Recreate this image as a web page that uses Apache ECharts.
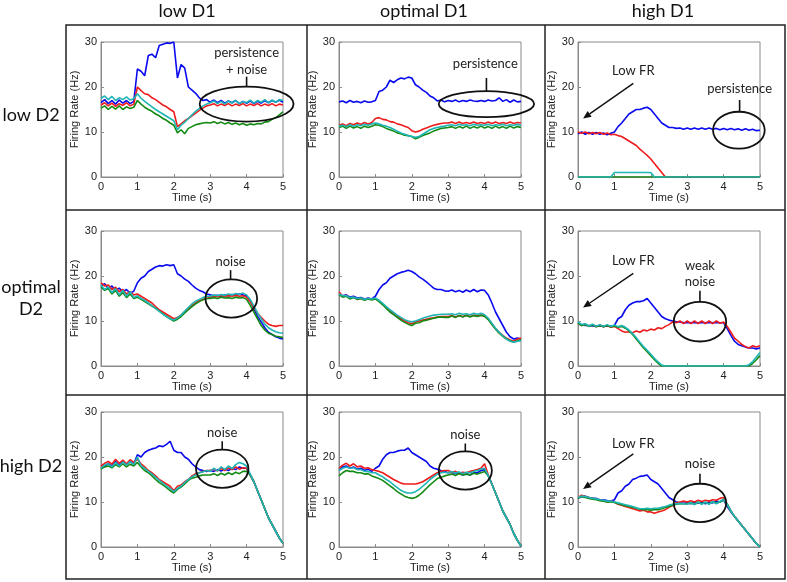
<!DOCTYPE html>
<html><head><meta charset="utf-8">
<script src="https://cdn.jsdelivr.net/npm/echarts@6/dist/echarts.min.js"></script>
<style>html,body{margin:0;padding:0;background:#fff}#c{width:787px;height:582px}</style>
</head><body><div id="c"></div>
<script>
// ---------- data ----------
const time = [0,0.1,0.2,0.3,0.4,0.5,0.6,0.7,0.8,0.9,1.0,1.1,1.2,1.3,1.4,1.5,1.6,1.7,1.8,1.9,2.0,2.1,2.2,2.3,2.4,2.5,2.6,2.7,2.8,2.9,3.0,3.1,3.2,3.3,3.4,3.5,3.6,3.7,3.8,3.9,4.0,4.1,4.2,4.3,4.4,4.5,4.6,4.7,4.8,4.9,5.0];
const xTicks = [0,1,2,3,4,5];
const yTicks = [0,10,20,30];
const colLabels = ['low D1','optimal D1','high D1'];
const rowLabels = ['low D2','optimal\nD2','high D2'];
const seriesNames = ['blue','red','green','cyan'];

// low D1 / low D2
const lowLow_blue = [16.5,17.2,16.3,17.0,16.2,17.1,16.4,17.0,16.3,16.8, 24.0,23.5,22.5,27.0,27.3,26.5,29.2,29.5,29.8,29.7, 30.0,22.0,25.0,24.2,20.0,19.3,18.6,17.6,17.0,17.2, 16.6,17.1,16.5,17.0,16.4,16.9,16.5,17.0,16.3,16.8, 16.4,16.9,16.3,16.8,16.4,17.0,16.5,17.0,16.6,17.1, 16.6];
const lowLow_red = [16.0,16.5,15.8,16.4,15.7,16.3,15.9,16.5,15.8,16.2, 20.0,19.2,18.5,18.3,17.6,17.2,16.6,16.0,15.6,15.0, 14.5,11.2,11.8,12.5,13.0,13.6,14.2,14.8,15.3,15.8, 16.0,16.3,15.8,16.2,15.9,16.3,15.8,16.2,15.9,16.3, 15.8,16.2,15.9,16.3,15.8,16.2,15.9,16.3,15.8,16.2, 16.0];
const lowLow_green = [15.3,15.8,15.0,15.7,15.1,15.8,15.0,15.6,15.2,15.5, 17.0,16.2,15.5,15.0,14.6,14.0,13.6,13.0,12.6,12.0, 11.5,9.8,10.5,9.6,10.8,11.2,11.6,11.8,12.0,12.1, 12.0,12.3,11.9,12.2,11.8,12.1,11.7,12.0,11.6,11.9, 11.5,11.8,11.6,11.9,11.8,12.2,12.3,12.8,13.2,13.8, 14.5];
const lowLow_cyan = [17.5,18.0,17.2,17.9,17.0,17.6,17.2,17.8,17.1,17.4, 18.5,17.5,16.8,16.2,15.6,15.0,14.5,14.0,13.5,13.0, 12.5,10.5,11.5,12.2,13.0,13.8,14.6,15.2,15.8,16.2, 16.5,16.9,16.3,16.8,16.2,16.9,16.4,17.0,16.3,16.8, 16.5,17.1,16.4,17.0,16.6,17.2,16.5,17.1,16.6,17.2, 17.0];

// optimal D1 / low D2
const optLow_blue = [16.7,16.9,16.5,17.0,16.6,16.8,16.5,16.9,16.6,16.7, 17.0,19.0,19.3,20.0,21.5,21.0,21.6,22.0,21.8,22.2, 22.0,20.5,20.0,19.3,18.8,18.0,17.6,16.9,17.1,16.7, 17.0,16.8,17.1,16.7,17.0,16.8,17.1,16.9,16.8,17.0, 16.8,17.1,16.9,17.0,17.6,16.8,17.2,16.6,17.1,16.7, 16.8];
const optLow_red = [11.5,11.8,11.4,11.9,11.6,12.0,11.7,12.1,11.8,12.1, 13.0,13.2,12.8,12.7,12.3,12.2,11.8,11.6,11.3,11.0, 10.3,10.0,10.2,10.6,10.9,11.2,11.5,11.7,11.9,12.0, 12.0,12.2,11.9,12.2,11.9,12.1,11.9,12.2,11.9,12.1, 11.9,12.2,11.9,12.2,11.9,12.1,11.9,12.2,11.9,12.1, 12.0];
const optLow_green = [11.0,11.3,10.8,11.3,10.9,11.2,10.8,11.3,11.0,11.3, 11.6,11.5,11.2,10.8,10.5,10.2,9.8,9.6,9.3,9.2, 9.0,8.5,8.8,9.2,9.5,9.8,10.2,10.5,10.8,10.9, 11.0,11.2,10.8,11.2,10.9,11.3,10.8,11.2,10.9,11.3, 10.9,11.2,10.8,11.3,10.9,11.2,10.8,11.3,10.9,11.2, 11.0];
const optLow_cyan = [11.3,11.5,11.2,11.6,11.3,11.6,11.4,11.7,11.5,11.8, 12.0,11.8,11.5,11.3,11.0,10.6,10.2,9.8,9.5,9.2, 9.0,8.8,9.0,9.5,10.0,10.5,10.8,11.0,11.2,11.3, 11.5,11.6,11.4,11.7,11.5,11.6,11.4,11.7,11.5,11.6, 11.5,11.7,11.4,11.6,11.5,11.7,11.4,11.6,11.5,11.7, 11.5];

// high D1 / low D2
const highLow_blue = [9.6,10.0,9.5,9.9,9.5,9.9,9.5,9.8,9.4,9.7, 10.0,11.2,12.0,13.0,14.0,14.5,15.0,15.0,15.3,15.5, 15.0,14.0,13.0,12.0,11.5,11.0,11.0,10.8,10.9,10.6, 10.9,10.6,10.9,10.6,10.9,10.6,10.9,10.6,10.8,10.5, 10.8,10.5,10.8,10.5,10.7,10.4,10.7,10.4,10.6,10.3, 10.4];
const highLow_red = [10.0,9.7,10.0,9.6,9.9,9.6,9.9,9.5,9.8,9.4, 9.5,9.2,9.0,8.5,8.0,7.5,7.0,6.2,5.5,4.8, 4.0,3.0,2.0,1.0,0,0,0,0,0,0, 0,0,0,0,0,0,0,0,0,0, 0,0,0,0,0,0,0,0,0,0, 0];
const highLow_green = [0,0,0,0,0,0,0,0,0,0, 0,0,0,0,0,0,0,0,0,0, 0,0,0,0,0,0,0,0,0,0, 0,0,0,0,0,0,0,0,0,0, 0,0,0,0,0,0,0,0,0,0, 0];
const highLow_cyan = [0,0,0,0,0,0,0,0,0,0, 1,1,1,1,1,1,1,1,1,1, 1,0,0,0,0,0,0,0,0,0, 0,0,0,0,0,0,0,0,0,0, 0,0,0,0,0,0,0,0,0,0, 0];

// low D1 / optimal D2
const lowOpt_blue = [17.8,18.3,17.2,17.8,16.8,17.3,16.5,17.0,16.2,16.6, 18.5,19.5,20.0,21.0,21.5,22.0,22.3,22.2,22.5,22.3, 22.5,20.5,20.0,19.3,18.8,18.0,17.3,16.8,16.5,16.0, 15.8,15.6,15.7,15.5,15.8,15.6,15.9,15.7,16.0,15.8, 15.5,14.5,12.8,11.0,9.8,8.5,7.5,7.0,6.5,6.2, 6.0];
const lowOpt_red = [18.5,17.8,18.0,17.0,17.5,16.5,17.0,16.0,16.5,15.8, 16.0,15.5,15.0,14.5,14.0,13.2,12.5,12.0,11.5,11.0, 10.5,10.8,11.3,12.0,12.8,13.5,14.0,14.5,14.8,15.0, 15.3,15.5,15.4,15.6,15.5,15.6,15.5,15.7,15.5,15.6, 15.3,14.3,13.0,11.8,10.8,10.0,9.3,9.0,8.8,9.0, 9.0];
const lowOpt_green = [17.5,16.8,17.2,16.0,16.8,15.5,16.3,15.2,16.0,15.0, 15.3,14.8,14.3,13.8,13.3,12.8,12.2,11.6,11.0,10.5, 10.0,10.4,11.0,11.8,12.5,13.2,13.8,14.3,14.7,15.0, 15.0,15.2,15.0,15.3,15.1,15.2,15.0,15.3,15.1,15.2, 14.8,13.5,12.0,10.5,9.0,8.0,7.3,7.0,6.6,6.5, 6.3];
const lowOpt_cyan = [18.0,17.0,17.6,16.3,17.2,15.8,16.8,15.5,16.5,15.2, 15.6,15.0,14.6,14.0,13.4,12.8,12.2,11.5,11.0,10.5, 10.2,10.7,11.3,12.2,13.0,13.8,14.4,14.8,15.2,15.5, 15.5,15.8,15.6,15.9,15.7,16.0,15.8,16.1,15.9,16.2, 15.8,14.8,13.3,11.8,10.5,9.3,8.5,8.0,7.6,7.4, 7.3];

// optimal D1 / optimal D2
const optOpt_blue = [16.0,15.6,15.8,15.3,15.5,15.1,15.2,14.9,15.1,14.9, 15.5,17.0,18.0,18.5,19.5,20.0,20.5,20.8,21.0,21.3, 21.0,20.5,19.8,19.3,18.7,18.0,17.3,17.0,17.0,16.7, 16.6,16.9,16.5,16.8,16.4,16.9,16.5,17.0,16.5,16.9, 16.8,15.8,14.0,12.0,10.5,9.0,7.5,6.5,6.0,6.2, 6.0];
const optOpt_red = [16.5,15.5,15.7,15.0,15.3,14.8,15.0,14.7,15.0,14.8, 15.0,14.5,13.8,13.0,12.3,11.6,11.0,10.5,10.0,9.6, 9.4,9.8,10.0,10.2,10.4,10.6,10.7,10.9,11.0,11.0, 11.0,11.2,10.9,11.2,11.0,11.3,11.0,11.3,11.1,11.3, 11.2,10.5,9.3,8.3,7.5,6.8,6.2,5.8,5.5,6.0, 6.2];
const optOpt_green = [15.8,15.3,15.5,14.9,15.2,14.8,15.0,14.6,14.9,14.7, 14.9,14.3,13.6,12.8,12.0,11.4,10.8,10.2,9.7,9.3, 9.0,9.5,9.6,10.0,10.2,10.4,10.6,10.8,10.9,10.8, 10.8,11.1,10.8,11.2,10.9,11.2,10.9,11.2,11.0,11.3, 11.0,10.3,9.2,8.2,7.3,6.6,6.0,5.6,5.3,5.6, 5.8];
const optOpt_cyan = [16.0,15.6,15.6,15.2,15.3,15.0,15.1,14.8,15.0,14.9, 15.1,14.6,13.9,13.2,12.5,11.9,11.3,10.8,10.3,10.0, 9.8,10.0,10.3,10.6,10.9,11.1,11.3,11.4,11.5,11.5, 11.5,11.6,11.4,11.7,11.5,11.6,11.4,11.7,11.5,11.7, 11.4,10.6,9.5,8.4,7.5,6.7,6.0,5.5,5.3,5.5, 5.6];

// high D1 / optimal D2
const highOpt_blue = [9.5,9.2,9.0,9.0,8.9,8.9,8.9,8.8,8.9,8.8, 9.0,10.5,11.0,12.5,13.5,14.0,14.3,14.3,14.5,15.0, 14.0,13.0,12.0,11.0,10.5,10.2,10.0,9.8,9.8,9.6, 9.7,9.6,9.7,9.6,9.7,9.6,9.7,9.6,9.7,9.6, 9.6,8.3,6.8,5.5,4.8,4.5,4.2,4.0,4.0,3.8, 4.0];
const highOpt_red = [9.5,9.0,9.3,8.8,9.2,8.7,9.1,8.7,9.0,8.6, 8.8,8.3,7.8,7.5,7.6,7.4,7.8,7.5,8.0,7.8, 8.2,8.0,8.5,8.3,8.8,9.2,9.8,9.6,10.0,9.4, 10.0,9.4,10.0,9.4,10.0,9.4,10.0,9.4,10.0,9.5, 9.8,8.8,7.5,6.2,5.5,4.8,4.3,4.0,4.5,4.2, 4.5];
const highOpt_green = [9.5,9.0,9.2,8.8,9.1,8.7,9.0,8.7,9.0,8.7, 8.9,8.6,8.8,8.4,7.8,7.0,6.0,5.0,4.0,3.2, 2.3,1.4,0.6,0,0,0,0,0,0,0, 0,0,0,0,0,0,0,0,0,0, 0,0,0,0,0,0,0,0,0.6,1.4, 2.3];
const highOpt_cyan = [9.8,9.2,9.4,8.9,9.3,8.8,9.2,8.8,9.2,8.8, 9.1,8.7,9.0,8.6,8.0,7.2,6.3,5.3,4.3,3.5, 2.6,1.7,0.9,0.2,0,0,0,0,0,0, 0,0,0,0,0,0,0,0,0,0, 0,0,0,0,0,0,0,0.3,1.0,2.0, 3.0];

// low D1 / high D2
const lowHigh_blue = [17.5,18.0,18.5,18.0,19.0,18.2,19.0,18.3,19.0,18.5, 20.5,20.0,21.0,21.5,21.8,22.0,22.5,22.3,22.8,23.5, 21.5,21.0,21.0,20.0,19.5,18.5,17.8,17.2,17.0,16.8, 17.0,16.8,17.2,16.9,17.3,17.0,17.5,17.2,17.8,17.5, 17.5,16.0,14.5,12.5,10.5,8.5,6.5,5.0,3.5,2.0, 0.8];
const lowHigh_red = [18.0,18.6,19.0,18.4,19.5,18.6,19.3,18.5,19.4,18.8, 19.5,18.5,17.8,17.0,16.5,15.8,15.0,14.5,14.0,13.5, 12.5,13.5,13.8,14.5,15.0,15.8,16.3,16.5,16.8,17.0, 17.0,17.3,16.9,17.5,17.0,17.6,17.2,17.8,17.3,17.6, 17.5,16.0,14.5,12.5,10.5,8.5,6.5,5.0,3.5,2.0, 0.8];
const lowHigh_green = [17.3,17.8,18.0,17.6,18.3,17.8,18.5,17.8,18.4,18.0, 18.8,17.8,17.0,16.5,15.8,15.0,14.3,13.8,13.2,12.5, 12.0,12.8,13.3,14.0,14.8,15.3,15.5,15.8,16.0,16.0, 16.0,16.3,15.9,16.4,16.0,16.5,16.1,16.6,16.3,16.8, 16.8,16.0,14.5,12.5,10.5,8.5,6.5,5.0,3.5,2.0, 0.8];
const lowHigh_cyan = [17.5,18.2,18.5,17.8,18.8,18.0,18.9,18.2,19.0,18.3, 20.0,18.0,17.5,16.8,16.2,15.5,14.8,14.2,13.5,13.0, 12.3,13.0,13.5,14.3,15.0,15.6,16.0,16.5,16.7,17.0, 16.8,17.5,16.9,17.8,17.2,18.0,17.4,18.3,18.8,18.5, 18.0,16.2,14.5,12.5,10.5,8.5,6.5,5.0,3.5,2.0, 0.8];

// optimal D1 / high D2
const optHigh_blue = [17.0,17.8,18.0,17.5,17.8,17.3,17.5,17.0,17.3,16.8, 17.5,18.0,19.5,20.5,21.0,21.0,21.3,21.5,21.5,22.0, 21.0,20.5,20.0,19.5,19.0,18.0,17.5,17.3,17.0,16.8, 16.5,16.6,16.3,16.5,16.0,16.3,16.0,16.5,16.5,17.0, 17.2,15.8,14.0,12.0,10.0,8.0,6.5,5.0,3.0,1.5, 0.2];
const optHigh_red = [17.5,18.2,18.6,18.0,18.5,17.8,18.0,17.5,17.6,17.2, 17.0,16.8,16.5,16.0,15.5,15.0,14.6,14.2,14.0,14.0, 14.0,14.0,14.2,14.5,15.0,15.5,16.0,16.5,16.8,17.0, 17.0,16.6,16.8,16.4,16.6,16.5,16.8,17.0,17.2,17.5, 18.5,16.0,14.0,12.0,10.0,8.0,6.5,5.0,3.0,1.5, 0.2];
const optHigh_green = [15.8,16.5,17.0,16.8,16.8,16.5,16.5,16.2,16.3,15.8, 15.5,15.2,14.8,14.2,13.6,13.0,12.3,11.8,11.3,11.0, 10.8,11.0,11.5,12.2,13.0,13.8,14.5,15.2,15.5,15.8, 16.0,16.2,15.9,16.3,16.0,16.2,16.0,16.4,16.2,16.5, 16.8,15.8,14.0,12.0,10.0,8.0,6.5,5.0,3.0,1.5, 0.2];
const optHigh_cyan = [17.0,17.5,17.8,17.5,17.6,17.2,17.2,16.8,16.8,16.5, 16.5,16.0,15.6,15.0,14.5,13.8,13.2,12.6,12.2,12.0, 12.0,12.3,12.8,13.5,14.2,15.0,15.6,16.2,16.5,16.6, 16.5,16.8,16.4,16.7,16.3,16.6,16.5,16.8,17.0,17.3, 17.5,15.8,14.0,12.0,10.0,8.0,6.5,5.0,3.0,1.5, 0.2];

// high D1 / high D2
const highHigh_blue = [10.8,11.2,11.3,11.0,10.8,10.8,10.5,10.5,10.3,10.2, 10.5,12.0,12.5,13.5,14.0,15.0,15.3,15.7,15.8,16.0, 15.0,14.5,14.0,13.0,12.0,11.0,10.5,10.0,9.8,9.7, 9.8,9.6,10.0,9.7,10.0,9.6,10.0,9.8,10.2,10.0, 10.5,9.0,7.8,6.8,5.8,4.8,3.8,2.8,1.8,0.8, 0];
const highHigh_red = [11.0,11.5,11.2,11.0,10.8,10.6,10.4,10.3,10.0,10.2, 10.0,9.5,9.3,9.0,8.8,8.5,8.3,8.0,8.2,7.8, 7.8,7.5,7.8,8.0,8.3,8.8,9.2,9.8,10.0,10.2, 10.0,10.3,10.0,10.4,10.1,10.4,10.2,10.5,10.4,10.8, 11.0,9.5,8.0,6.8,5.8,4.8,3.8,2.8,1.8,0.8, 0];
const highHigh_green = [10.8,11.2,11.0,10.8,10.6,10.5,10.3,10.2,10.0,10.0, 9.9,9.6,9.4,9.2,9.0,8.8,8.6,8.4,8.3,8.3, 8.2,8.3,8.3,8.5,8.8,9.0,9.3,9.5,9.6,9.6, 9.6,9.8,9.5,9.9,9.6,9.9,9.6,10.0,9.8,10.0, 10.5,9.5,8.0,6.8,5.8,4.8,3.8,2.8,1.8,0.8, 0];
const highHigh_cyan = [11.0,11.3,11.2,11.0,10.8,10.7,10.5,10.4,10.2,10.2, 10.0,9.8,9.6,9.4,9.2,9.0,8.7,8.5,8.5,8.6, 8.5,8.6,8.6,8.8,9.0,9.3,9.5,9.6,9.7,9.6, 9.5,9.9,9.4,10.0,9.5,10.0,9.5,10.1,9.6,10.1, 10.6,9.5,8.0,6.8,5.8,4.8,3.8,2.8,1.8,0.8, 0];

// panels in reading order (row = D2 level, col = D1 level)
const panels = [
  [lowLow_blue, lowLow_red, lowLow_green, lowLow_cyan],
  [optLow_blue, optLow_red, optLow_green, optLow_cyan],
  [highLow_blue, highLow_red, highLow_green, highLow_cyan],
  [lowOpt_blue, lowOpt_red, lowOpt_green, lowOpt_cyan],
  [optOpt_blue, optOpt_red, optOpt_green, optOpt_cyan],
  [highOpt_blue, highOpt_red, highOpt_green, highOpt_cyan],
  [lowHigh_blue, lowHigh_red, lowHigh_green, lowHigh_cyan],
  [optHigh_blue, optHigh_red, optHigh_green, optHigh_cyan],
  [highHigh_blue, highHigh_red, highHigh_green, highHigh_cyan]
];

// annotations (data coordinates of each panel)
const annotations = [
  {panel:0, ellipse:[4.0,16.2,1.29,3.9], tick:[4.0,20.1,22.3], texts:[['persistence',4.0,27.5],['+ noise',4.0,23.8]]},
  {panel:1, ellipse:[4.05,16.2,1.31,2.9], tick:[4.05,19.1,22.0], texts:[['persistence',4.02,25.1]]},
  {panel:2, ellipse:[4.42,10.4,0.71,4.1], tick:[4.44,14.5,17.1], texts:[['persistence',4.44,19.7],['Low FR',1.52,23.5]], arrow:[1.52,20.8,0.14,13.0]},
  {panel:3, ellipse:[3.58,15.0,0.71,4.26], tick:[3.56,19.26,21.3], texts:[['noise',3.56,23.2]]},
  {panel:5, ellipse:[3.35,9.85,0.72,4.4], tick:[3.35,14.25,16.7], texts:[['weak',3.35,22.2],['noise',3.35,18.7],['Low FR',1.52,23.3]], arrow:[1.52,20.6,0.14,13.0]},
  {panel:6, ellipse:[3.33,17.4,0.72,4.26], tick:[3.33,21.66,23.5], texts:[['noise',3.33,25.3]]},
  {panel:7, ellipse:[3.47,17.0,0.73,4.26], tick:[3.47,21.26,23.0], texts:[['noise',3.47,25.0]]},
  {panel:8, ellipse:[3.35,9.8,0.72,4.26], tick:[3.35,14.06,16.3], texts:[['noise',3.35,18.4],['Low FR',1.52,23.0]], arrow:[1.52,20.7,0.14,12.9]}
];

// ---------- layout / style ----------
const colors = ['#0a0aee','#ee1c1c','#138a13','#1fb5b5'];
const gridLeft = [101, 339, 578];
const gridTop = [42, 231, 412];
const GW = 182, GH = 135;
const axisFont = 'Liberation Sans';

const grids = [], xAxes = [], yAxes = [], series = [];
for (let i = 0; i < 9; i++) {
  const r = Math.floor(i / 3), c = i % 3;
  grids.push({left: gridLeft[c], top: gridTop[r], width: GW, height: GH, show: true,
    borderColor: '#8a8a8a', borderWidth: 1, backgroundColor: '#fff', containLabel: false});
  xAxes.push({type: 'value', gridIndex: i, min: xTicks[0], max: xTicks[xTicks.length-1], interval: 1,
    name: 'Time (s)', nameLocation: 'middle', nameGap: 15,
    nameTextStyle: {fontFamily: axisFont, fontSize: 11, color: '#222'},
    axisLine: {show: true, onZero: false, lineStyle: {color: '#8a8a8a', width: 1}},
    axisTick: {show: true, inside: true, length: 3, lineStyle: {color: '#8a8a8a'}},
    axisLabel: {fontFamily: axisFont, fontSize: 11, color: '#222', margin: 4},
    splitLine: {show: false}});
  yAxes.push({type: 'value', gridIndex: i, min: yTicks[0], max: yTicks[yTicks.length-1], interval: 10,
    name: 'Firing Rate (Hz)', nameLocation: 'middle', nameGap: 18,
    nameTextStyle: {fontFamily: axisFont, fontSize: 11, color: '#222'},
    axisLine: {show: true, lineStyle: {color: '#8a8a8a', width: 1}},
    axisTick: {show: true, inside: true, length: 3, lineStyle: {color: '#8a8a8a'}},
    axisLabel: {fontFamily: axisFont, fontSize: 11, color: '#222', margin: 4},
    splitLine: {show: false}});
  panels[i].forEach((vals, k) => {
    series.push({type: 'line', name: seriesNames[k], xAxisIndex: i, yAxisIndex: i,
      data: time.map((t, j) => [t, vals[j]]),
      showSymbol: false, symbol: 'none', lineStyle: {color: colors[k], width: 1.6},
      itemStyle: {color: colors[k]}, z: 2 + k, clip: true, silent: true});
  });
}

const chart = echarts.init(document.getElementById('c'), null, {renderer: 'canvas'});
chart.setOption({animation: false, backgroundColor: '#fff', grid: grids, xAxis: xAxes, yAxis: yAxes, series: series});

// ---------- frame, headers, annotations ----------
const g = [];
const frameL = 66, frameT = 25, frameR = 785, frameB = 579;
const rowLines = [210, 395], colLines = [307, 545];
const frameStyle = {stroke: '#222', lineWidth: 1.5};
g.push({type: 'rect', shape: {x: frameL, y: frameT, width: frameR - frameL, height: frameB - frameT}, style: {fill: null, stroke: '#222', lineWidth: 1.5}, z: 50});
rowLines.forEach(y => g.push({type: 'line', shape: {x1: frameL, y1: y, x2: frameR, y2: y}, style: frameStyle, z: 50}));
colLines.forEach(x => g.push({type: 'line', shape: {x1: x, y1: frameT, x2: x, y2: frameB}, style: frameStyle, z: 50}));
const headX = [187, 424, 663];
colLabels.forEach((t, i) => g.push({type: 'text', x: headX[i], y: 11, style: {text: t, font: '18px Lato', fill: '#111', align: 'center', verticalAlign: 'middle'}, z: 60}));
const rowY = [115, 298, 466];
rowLabels.forEach((t, i) => g.push({type: 'text', x: 31, y: rowY[i], style: {text: t, font: '18px Lato', fill: '#111', align: 'center', verticalAlign: 'middle', lineHeight: 22}, z: 60}));

const annFont = '13px Lato';
annotations.forEach(a => {
  const P = (x, y) => chart.convertToPixel({gridIndex: a.panel}, [x, y]);
  const [ex, ey, erx, ery] = a.ellipse;
  const c0 = P(ex, ey), c1 = P(ex + erx, ey + ery);
  g.push({type: 'ellipse', shape: {cx: c0[0], cy: c0[1], rx: c1[0] - c0[0], ry: c0[1] - c1[1]}, style: {fill: null, stroke: '#111', lineWidth: 1.8}, z: 70});
  const t0 = P(a.tick[0], a.tick[1]), t1 = P(a.tick[0], a.tick[2]);
  g.push({type: 'line', shape: {x1: t0[0], y1: t0[1], x2: t1[0], y2: t1[1]}, style: {stroke: '#111', lineWidth: 1.6}, z: 70});
  a.texts.forEach(([txt, x, y]) => {
    const p = P(x, y);
    g.push({type: 'text', x: p[0], y: p[1], style: {text: txt, font: annFont, fill: '#222', align: 'center', verticalAlign: 'middle'}, z: 71});
  });
  if (a.arrow) {
    const s = P(a.arrow[0], a.arrow[1]), e = P(a.arrow[2], a.arrow[3]);
    const ang = Math.atan2(e[1] - s[1], e[0] - s[0]);
    const L = 8, W = 3.5;
    const bx = e[0] - L * Math.cos(ang), by = e[1] - L * Math.sin(ang);
    g.push({type: 'line', shape: {x1: s[0], y1: s[1], x2: bx, y2: by}, style: {stroke: '#111', lineWidth: 1.4}, z: 70});
    g.push({type: 'polygon', shape: {points: [[e[0], e[1]], [bx + W * Math.sin(ang), by - W * Math.cos(ang)], [bx - W * Math.sin(ang), by + W * Math.cos(ang)]]}, style: {fill: '#111'}, z: 70});
  }
});
chart.setOption({graphic: g});
</script>
</body></html>
